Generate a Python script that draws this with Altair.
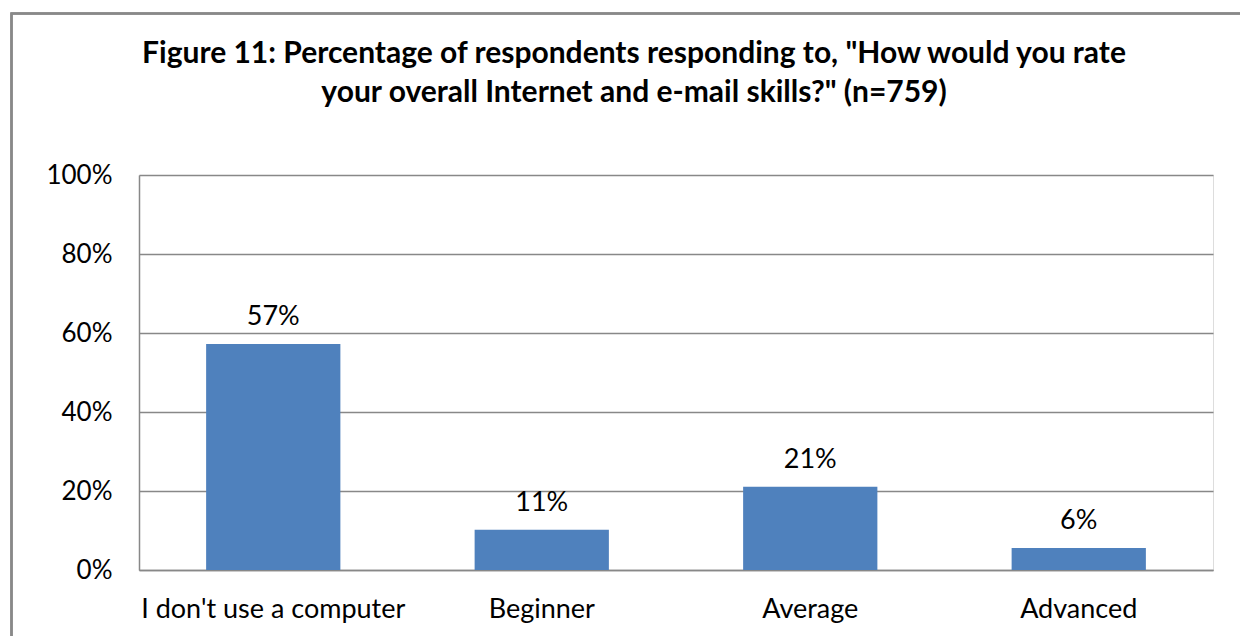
import altair as alt
import pandas as pd

categories = ["I don't use a computer", "Beginner", "Average", "Advanced"]
values = [57.2, 10.2, 21.1, 5.6]
labels = ["57%", "11%", "21%", "6%"]
title_lines = [
    "Figure 11: Percentage of respondents responding to, \"How would you rate",
    "your overall Internet and e-mail skills?\" (n=759)",
]

df = pd.DataFrame({"category": categories, "value": values, "label": labels})

FONT = "Lato"
GRAY = "#888888"

x_enc = alt.X(
    "category:N",
    sort=categories,
    scale=alt.Scale(paddingInner=0.5, paddingOuter=0.25),
    axis=alt.Axis(
        title=None, labelAngle=0, ticks=False, domain=True, domainColor=GRAY,
        domainWidth=1.5, labelFont=FONT, labelFontSize=27, labelColor="black",
        labelPadding=26, labelBaseline="top", labelLimit=400,
    ),
)
y_enc = alt.Y(
    "value:Q",
    scale=alt.Scale(domain=[0, 100]),
    axis=alt.Axis(
        title=None, values=[0, 20, 40, 60, 80, 100], labelExpr="datum.value + '%'",
        ticks=False, domain=True, domainColor=GRAY, domainWidth=1.5,
        grid=True, gridColor=GRAY, gridWidth=1.5, labelFont=FONT,
        labelFontSize=26, labelColor="black", labelPadding=27,
    ),
)

bars = alt.Chart(df).mark_bar(color="#4F81BD").encode(x=x_enc, y=y_enc)
text = alt.Chart(df).mark_text(
    font=FONT, fontSize=27, color="black", baseline="alphabetic", dy=-19
).encode(x=alt.X("category:N", sort=categories), y="value:Q", text="label:N")

border = alt.Chart(df).mark_rect(
    fill=None, stroke="#898989", strokeWidth=2
).encode(
    x=alt.value(-127.5), x2=alt.value(1300), y=alt.value(-161.5), y2=alt.value(700)
)

chart = (
    alt.layer(border, bars, text)
    .properties(
        width=1074,
        height=395,
        autosize=alt.AutoSizeParams(type="none"),
        padding={"left": 131, "top": 167, "right": 27, "bottom": 66},
        title=alt.TitleParams(
            text=title_lines, font=FONT, fontSize=30, fontWeight="bold",
            color="black", anchor="middle", dx=-42, offset=-95.5, lineHeight=39,
        ),
    )
    .configure_view(stroke=None)
    .configure(background="white")
)

chart.save("out.html", embed_options={"renderer": "svg", "actions": False})
